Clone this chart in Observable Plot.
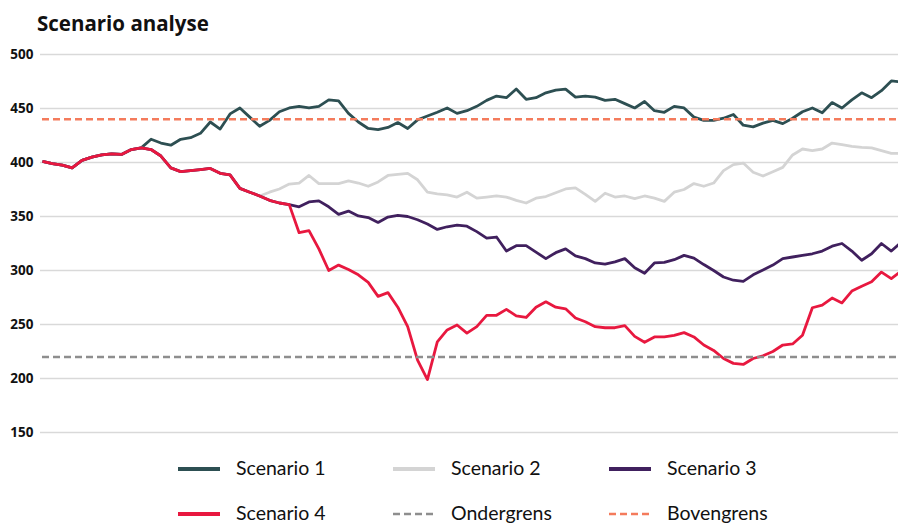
<!DOCTYPE html>
<html><head><meta charset="utf-8">
<script src="https://cdn.jsdelivr.net/npm/d3@7"></script>
<script src="https://cdn.jsdelivr.net/npm/@observablehq/plot@0.6"></script>
<style>
body{margin:0;background:#fff;width:898px;height:526px;overflow:hidden;font-family:"Open Sans",sans-serif;position:relative}
#title{position:absolute;left:37px;top:9px;font-weight:700;font-size:20.5px;color:#111;white-space:nowrap;line-height:28px}
#chart{position:absolute;left:0;top:0}
.item{position:absolute;display:flex;align-items:center;font-family:Lato,sans-serif;font-size:19.5px;line-height:20px;color:#111;white-space:nowrap}
.item svg{margin-right:16px}
</style></head>
<body>
<div id="chart"></div>
<div id="title">Scenario analyse</div>
<div id="legend"></div>
<script>
const seriesNames = ["Scenario 1","Scenario 2","Scenario 3","Scenario 4","Ondergrens","Bovengrens"];
const yTicks = [150,200,250,300,350,400,450,500];
const ondergrens = 220;
const bovengrens = 440;

const scenario4 = [401,399,397.5,395,402,405,407,408,407.5,412,413.5,412,406,395,391.5,392.5,393.5,394.5,390,388.5,
376,372.5,369,365,362.5,361,335,337,320,300,305,301,296,289,276,279.5,266,248,217,199,
234,245,249.5,242,248,258.5,258.5,264,258,256.5,266,271,266,264.5,256,252.5,248,247,247,249,
239,233.5,238.5,238.5,240,242.5,238.5,231,226,218.5,214,213,218.5,221,225,231,232,240,265.5,268,
274.5,270,281,285.5,289.5,298.5,292.5,299.5];

const scenario1 = [401,399,397.5,395,402,405,407,408,407.5,412,413.5,421.5,418,416,421.5,423,427,437.5,431,445,
450.5,442,433.5,439,447,450.5,452,450.5,452,458,457,445.5,437.5,431.5,430.5,432.5,437,431.5,439.5,443,
446.5,450.5,445.5,448,452,457.5,461.5,460,468,458.5,460,464.5,467,468,460.5,461.5,460.5,457.5,458.5,454.5,
450.5,456.5,448,446.5,452,450.5,442,439,439,441,444.5,434.5,433,436.5,439,436,441,447,450.5,446,
455.5,450.5,458,464.5,460,466.5,475.5,474.5];

const scenario2 = [401,399,397.5,395,402,405,407,408,407.5,412,413.5,412,406,395,391.5,392.5,393.5,394.5,390,388.5,
376,372.5,369,372.5,375.5,380,381,388,380.5,380.5,380.5,383,381,378,382,388,389,390,384,372.5,
371,370,368,372.5,367,368,369,368,365,362.5,367,368.5,372,375.5,376.5,370.5,364,371.5,368,369,
366.5,369,367,364,372.5,375,380.5,378,381,392.5,398,399.5,391,387.5,391.5,395.5,407,412.5,411,412.5,
418,416.5,415,414,413.5,411,408.5,408.5];

const scenario3 = [401,399,397.5,395,402,405,407,408,407.5,412,413.5,412,406,395,391.5,392.5,393.5,394.5,390,388.5,
376,372.5,369,365,362.5,361,359,363.5,364.5,359,352,355,350.5,349,344.5,349.5,351,350,347,343,
338,340.5,342,341,336,330,331,318,323,323,317,311,316.5,320,313.5,311,307,306,308,311,
302.5,297.5,307,307.5,310,314,311.5,305.5,300,294,291,290,296,300.5,305,311,312.5,314,315.5,318,
322.5,325,318,309.5,315.5,325,318,326];

const colors = {
  "Scenario 1":"#2d4f52",
  "Scenario 2":"#d4d4d4",
  "Scenario 3":"#40205e",
  "Scenario 4":"#e8183f",
  "Ondergrens":"#8e8e8e",
  "Bovengrens":"#f47b5c"
};
const dash = "7,4";
const lastIndex = scenario1.length - 1;

const lineMark = (vals, name) => Plot.line(vals, {x:(d,i)=>i, y:d=>d, stroke:colors[name], strokeWidth:2.8, strokeLinejoin:"round", strokeLinecap:"butt"});

const chart = Plot.plot({
  width: 898,
  height: 450,
  marginTop: 54,
  marginBottom: 18,
  marginLeft: 40,
  marginRight: 0,
  style: {background:"#fff", overflow:"hidden"},
  x: {type:"linear", domain:[0,lastIndex], range:[42, 42 + lastIndex*9.87], axis:null},
  y: {domain:[150,500]},
  marks: [
    Plot.gridY(yTicks, {stroke:"#d9d9d9", strokeOpacity:1, strokeWidth:1.3}),
    Plot.axisY(yTicks, {tickSize:0, tickPadding:7, fontSize:13.5, fontWeight:700, fill:"#111", fontFamily:"Open Sans", tickFormat:d=>String(d)}),
    lineMark(scenario1, "Scenario 1"),
    lineMark(scenario2, "Scenario 2"),
    lineMark(scenario3, "Scenario 3"),
    lineMark(scenario4, "Scenario 4"),
    Plot.ruleY([ondergrens], {x1:0, x2:lastIndex, stroke:colors["Ondergrens"], strokeWidth:2.5, strokeDasharray:dash}),
    Plot.ruleY([bovengrens], {x1:0, x2:lastIndex, stroke:colors["Bovengrens"], strokeWidth:2.5, strokeDasharray:dash})
  ]
});
document.getElementById("chart").appendChild(chart);

const legend = document.getElementById("legend");
const colX = [178, 393, 609];
const rowY = [468, 513];
seriesNames.forEach((name, k) => {
  const item = document.createElement("div");
  item.className = "item";
  const c = k % 3, r = Math.floor(k / 3);
  item.style.left = colX[c] + "px";
  item.style.top = (rowY[r] - 11) + "px";
  item.style.height = "22px";
  const dashed = name === "Ondergrens" || name === "Bovengrens";
  const sw = dashed ? 2.5 : 4;
  item.innerHTML = `<svg width="42" height="8"><line x1="0" x2="42" y1="5" y2="5" stroke="${colors[name]}" stroke-width="${sw}" ${dashed ? 'stroke-dasharray="7,4"' : ''}/></svg><span>${name}</span>`;
  legend.appendChild(item);
});
</script>
</body></html>
